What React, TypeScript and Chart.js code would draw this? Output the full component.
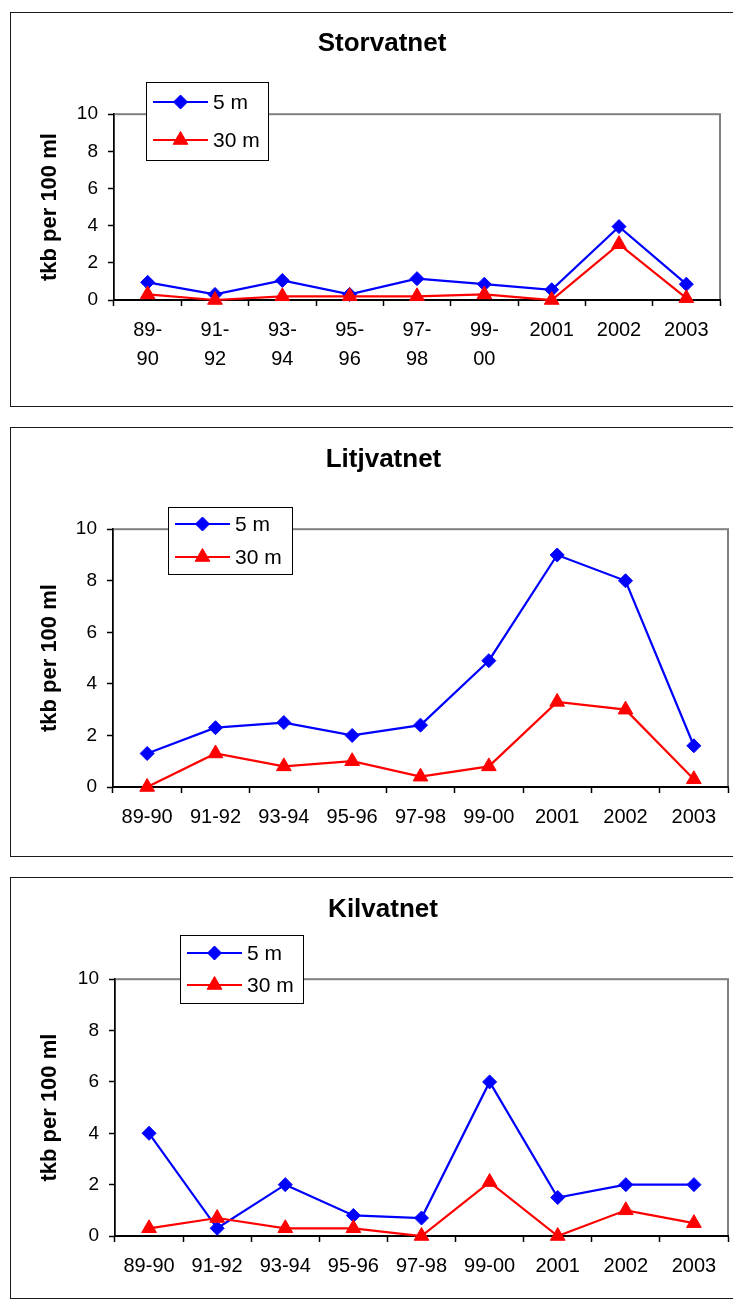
import React, { useEffect, useRef } from "react";
import { Chart, registerables } from "chart.js";

Chart.register(...registerables);

const FONT = '"Liberation Sans", Arial, Helvetica, sans-serif';
Chart.defaults.font.family = FONT;

// ---------- data ----------
const periodsTwoLine: (string | string[])[] = [
  ["89-", "90"], ["91-", "92"], ["93-", "94"], ["95-", "96"], ["97-", "98"], ["99-", "00"],
  "2001", "2002", "2003",
];
const periods = ["89-90", "91-92", "93-94", "95-96", "97-98", "99-00", "2001", "2002", "2003"];
const seriesNames = ["5 m", "30 m"];
const yAxisTitle = "tkb per 100 ml";
const yMin = 0;
const yMax = 10;
const yStep = 2;

const storvatnet5 = [0.95, 0.3, 1.05, 0.3, 1.15, 0.85, 0.55, 3.95, 0.85];
const storvatnet30 = [0.3, 0, 0.2, 0.2, 0.2, 0.3, 0, 3.0, 0.1];
const litjvatnet5 = [1.3, 2.3, 2.5, 2.0, 2.4, 4.9, 9.0, 8.0, 1.6];
const litjvatnet30 = [0, 1.3, 0.8, 1.0, 0.4, 0.8, 3.3, 3.0, 0.3];
const kilvatnet5 = [4.0, 0.3, 2.0, 0.8, 0.7, 6.0, 1.5, 2.0, 2.0];
const kilvatnet30 = [0.3, 0.7, 0.3, 0.3, 0, 2.1, 0, 1.0, 0.5];

// ---------- layout (per panel) ----------
type PanelLayout = {
  top: number; height: number; canvasH: number;
  padL: number; padR: number; yW: number; xH: number;
  titleTop: number; titleBottom: number; yTitlePad: number;
  legend: { x: number; y: number; w: number; h: number };
};

const panels: {
  title: string; labels: (string | string[])[]; s5: number[]; s30: number[]; layout: PanelLayout;
}[] = [
  {
    title: "Storvatnet", labels: periodsTwoLine, s5: storvatnet5, s30: storvatnet30,
    layout: {
      top: 4, height: 395, canvasH: 393, padL: 33, padR: 21, yW: 70, xH: 106,
      titleTop: 15, titleBottom: 55, yTitlePad: -7,
      legend: { x: 135, y: 69, w: 122, h: 78 },
    },
  },
  {
    title: "Litjvatnet", labels: periods, s5: litjvatnet5, s30: litjvatnet30,
    layout: {
      top: 419, height: 430, canvasH: 428, padL: 28, padR: 13, yW: 74, xH: 69,
      titleTop: 16, titleBottom: 54, yTitlePad: -2,
      legend: { x: 157, y: 79, w: 124, h: 67 },
    },
  },
  {
    title: "Kilvatnet", labels: periods, s5: kilvatnet5, s30: kilvatnet30,
    layout: {
      top: 869, height: 422, canvasH: 420, padL: 27, padR: 13, yW: 77, xH: 62,
      titleTop: 16, titleBottom: 54, yTitlePad: -1,
      legend: { x: 169, y: 57, w: 123, h: 68 },
    },
  },
];

// ---------- plugins ----------
function drawMarker(ctx: CanvasRenderingContext2D, style: string, x: number, y: number, r: number, color: string) {
  ctx.beginPath();
  if (style === "rectRot") {
    ctx.moveTo(x, y - r);
    ctx.lineTo(x + r, y);
    ctx.lineTo(x, y + r);
    ctx.lineTo(x - r, y);
  } else {
    ctx.moveTo(x, y - r);
    ctx.lineTo(x + r * 0.866, y + r * 0.5);
    ctx.lineTo(x - r * 0.866, y + r * 0.5);
  }
  ctx.closePath();
  ctx.fillStyle = color;
  ctx.strokeStyle = color;
  ctx.lineWidth = 1;
  ctx.fill();
  ctx.stroke();
}

const plotBorderPlugin = {
  id: "plotBorder",
  beforeDraw(chart: any) {
    const { ctx, chartArea } = chart;
    const { left, top, right, bottom } = chartArea;
    ctx.save();
    ctx.strokeStyle = "#808080";
    ctx.lineWidth = 2;
    ctx.strokeRect(left, top, right - left, bottom - top);
    ctx.restore();
  },
};

const boxLegendPlugin = {
  id: "boxLegend",
  afterDraw(chart: any, _args: any, opts: any) {
    const { ctx } = chart;
    const { x, y, w, h } = opts.box;
    ctx.save();
    ctx.fillStyle = "#ffffff";
    ctx.fillRect(x, y, w, h);
    ctx.strokeStyle = "#000000";
    ctx.lineWidth = 1;
    ctx.strokeRect(x + 0.5, y + 0.5, w, h);
    chart.data.datasets.forEach((ds: any, i: number) => {
      const cy = Math.round(y + h * (i === 0 ? 0.26 : 0.74));
      ctx.strokeStyle = ds.borderColor;
      ctx.lineWidth = 2;
      ctx.beginPath();
      ctx.moveTo(x + 7, cy);
      ctx.lineTo(x + 62, cy);
      ctx.stroke();
      drawMarker(ctx, ds.pointStyle, x + 34.5, cy, ds.pointRadius, ds.backgroundColor);
      ctx.fillStyle = "#000000";
      ctx.font = `21px ${FONT}`;
      ctx.textAlign = "left";
      ctx.textBaseline = "middle";
      ctx.fillText(ds.label, x + 67, cy + 1);
    });
    ctx.restore();
  },
};

// ---------- components ----------
function Panel({ p }: { p: (typeof panels)[number] }) {
  const ref = useRef<HTMLCanvasElement | null>(null);
  useEffect(() => {
    if (!ref.current) return;
    const L = p.layout;
    const chart = new Chart(ref.current, {
      type: "line",
      data: {
        labels: p.labels as any,
        datasets: [
          {
            label: seriesNames[0], data: p.s5, borderColor: "#0000FF", backgroundColor: "#0000FF",
            borderWidth: 2.2, pointStyle: "rectRot", pointRadius: 7, pointHoverRadius: 7,
            pointBorderWidth: 1, tension: 0, clip: false as any, order: 1,
          },
          {
            label: seriesNames[1], data: p.s30, borderColor: "#FF0000", backgroundColor: "#FF0000",
            borderWidth: 2.2, pointStyle: "triangle", pointRadius: 8.5, pointHoverRadius: 8.5,
            pointBorderWidth: 1, tension: 0, clip: false as any, order: 0,
          },
        ],
      },
      options: {
        responsive: false,
        animation: false,
        events: [],
        layout: { padding: { left: L.padL, right: L.padR, top: 0, bottom: 0 } },
        plugins: {
          legend: { display: false },
          tooltip: { enabled: false },
          title: {
            display: true, text: p.title, color: "#000",
            font: { size: 26, weight: "bold", lineHeight: 1.2 },
            padding: { top: L.titleTop, bottom: L.titleBottom },
          },
          boxLegend: { box: L.legend },
        } as any,
        scales: {
          x: {
            type: "category",
            offset: true,
            grid: {
              offset: true, drawOnChartArea: false, drawTicks: true, tickLength: 6,
              color: "#000", tickWidth: 1.5,
            },
            border: { display: true, color: "#000", width: 2 },
            ticks: {
              color: "#000", font: { size: 20, lineHeight: 1.45 }, padding: 9.5,
              autoSkip: false, maxRotation: 0, minRotation: 0,
            },
            afterFit: (s: any) => { s.height = L.xH; },
          },
          y: {
            min: yMin, max: yMax,
            grid: { drawOnChartArea: false, drawTicks: true, tickLength: 6, color: "#000", tickWidth: 1.5 },
            border: { display: true, color: "#000", width: 1.5 },
            ticks: { stepSize: yStep, color: "#000", font: { size: 19 }, padding: 10 },
            title: {
              display: true, text: yAxisTitle, color: "#000",
              font: { size: 22, weight: "bold", lineHeight: 1.2 },
              padding: { top: L.yTitlePad, bottom: 0 },
            },
            afterFit: (s: any) => { s.width = L.yW; },
          },
        },
      },
      plugins: [plotBorderPlugin, boxLegendPlugin],
    });
    return () => chart.destroy();
  }, [p]);

  const L = p.layout;
  return (
    <div
      style={{
        position: "absolute", left: 2, top: L.top, width: 800, height: L.height,
        boxSizing: "border-box", border: "1px solid #1a1a1a", background: "#fff",
      }}
    >
      <canvas ref={ref} width={730} height={L.canvasH} style={{ display: "block", width: 730, height: L.canvasH }} />
    </div>
  );
}

export default function App() {
  return (
    <div style={{ position: "relative", width: 733, height: 1292, overflow: "hidden", background: "#fff" }}>
      {panels.map((p) => (
        <Panel key={p.title} p={p} />
      ))}
    </div>
  );
}
